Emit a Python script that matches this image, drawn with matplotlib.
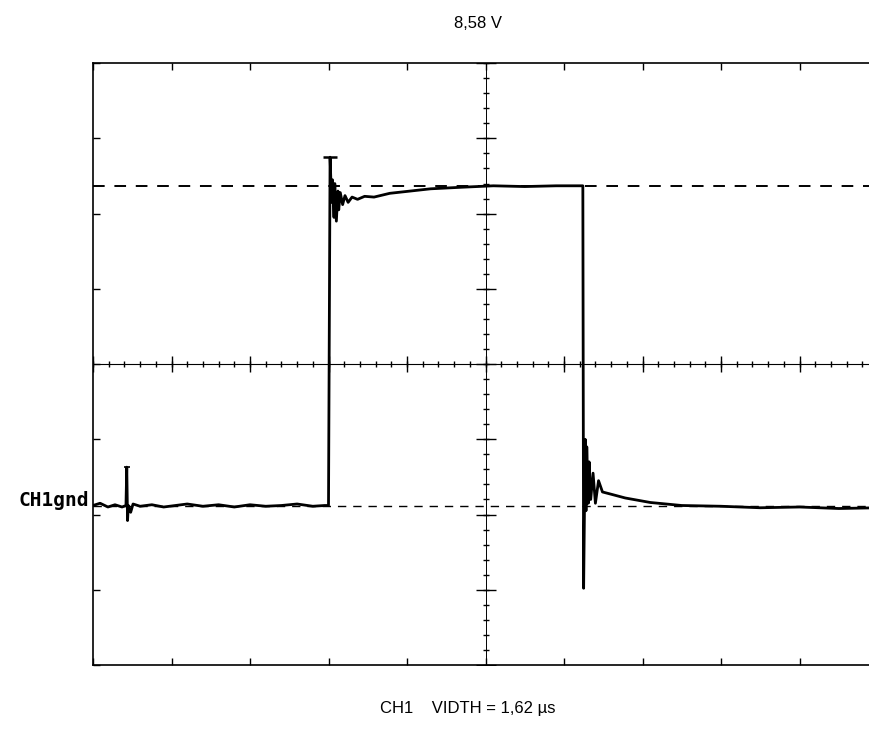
import numpy as np
import matplotlib
matplotlib.use("Agg")
import matplotlib.pyplot as plt

# oscilloscope trace, in screen divisions (x: 0..10, y: -4..4)
trace_x = [0.00, 0.09, 0.19, 0.28, 0.37, 0.42, 0.43, 0.44, 0.45, 0.48, 0.51,
           0.60, 0.75, 0.90, 1.05, 1.20, 1.40, 1.60, 1.80, 2.00, 2.20, 2.40,
           2.60, 2.80, 2.95, 3.00, 3.02, 3.04, 3.05, 3.07, 3.08, 3.10, 3.12,
           3.13, 3.15, 3.18, 3.21, 3.25, 3.30, 3.37, 3.46, 3.58, 3.78, 4.04,
           4.30, 4.68, 5.10, 5.50, 5.90, 6.20, 6.24, 6.25, 6.27, 6.28, 6.29,
           6.31, 6.32, 6.34, 6.37, 6.40, 6.44, 6.49, 6.60, 6.78, 7.10, 7.50,
           8.00, 8.50, 9.00, 9.50, 10.0]
trace_y = [-1.88, -1.85, -1.90, -1.87, -1.90, -1.88, -1.37, -2.08, -1.88, -1.97,
           -1.86, -1.89, -1.87, -1.90, -1.88, -1.86, -1.89, -1.87, -1.90, -1.87,
           -1.89, -1.88, -1.86, -1.89, -1.88, -1.88, 2.75, 2.15, 2.45, 1.95,
           2.40, 1.90, 2.30, 2.05, 2.28, 2.12, 2.24, 2.15, 2.22, 2.19, 2.23,
           2.22, 2.27, 2.30, 2.33, 2.35, 2.37, 2.36, 2.37, 2.37, 2.37, -2.98,
           -1.00, -1.95, -1.10, -1.85, -1.30, -1.80, -1.45, -1.85, -1.55, -1.70,
           -1.73, -1.78, -1.84, -1.88, -1.89, -1.91, -1.90, -1.92, -1.91]

level_high = 2.37
level_gnd = -1.89

top_label = "8,58 V"
bottom_label = "CH1    VIDTH = 1,62 \u00b5s"
ref_label = "CH1gnd"

fig = plt.figure(figsize=(8.7, 7.33), dpi=100)
ax = fig.add_axes([0.1069, 0.0928, 0.9023, 0.821])
ax.set_xlim(0, 10)
ax.set_ylim(-4, 4)

# frame
for s in ax.spines.values():
    s.set_linewidth(1.2)
    s.set_color("black")
ax.set_xticks(np.arange(0, 11))
ax.set_yticks(np.arange(-4, 5))
ax.tick_params(direction="in", length=5, width=1, top=True, right=True,
               labelbottom=False, labelleft=False)

# graticule centre cross
ax.axhline(0, color="black", lw=0.8)
ax.axvline(5, color="black", lw=0.7)
minor_x = np.arange(0, 10.01, 0.2)
minor_y = np.arange(-4, 4.01, 0.2)
ax.plot(minor_x, np.zeros_like(minor_x), "|", color="black", ms=5, mew=1)
ax.plot(np.full_like(minor_y, 5), minor_y, "_", color="black", ms=5, mew=1)
major = np.arange(0, 11)
ax.plot(major, np.zeros_like(major), "|", color="black", ms=12, mew=1)
major_y = np.arange(-4, 5)
ax.plot(np.full_like(major_y, 5, dtype=float), major_y, "_", color="black", ms=14, mew=1)

# reference levels
ax.axhline(level_high, color="black", lw=1.4, dashes=(6, 5))
ax.axhline(level_gnd, color="black", lw=1.0, dashes=(6, 5))

# trace
ax.plot(trace_x, trace_y, color="black", lw=2.0, solid_joinstyle="round")
ax.plot([0.43], [-1.37], "_", color="black", ms=4, mew=1.2)
ax.plot([3.02], [2.75], "_", color="black", ms=10, mew=1.8)

fig.text(0.549, 0.968, top_label, ha="center", va="center",
         fontsize=12, family="Liberation Sans")
fig.text(0.538, 0.034, bottom_label, ha="center", va="center",
         fontsize=12, family="Liberation Sans")
ax.text(-0.05, level_gnd + 0.08, ref_label, ha="right", va="center",
        fontsize=14, family="DejaVu Sans Mono", fontweight="bold")

fig.savefig("out.png", dpi=100)
